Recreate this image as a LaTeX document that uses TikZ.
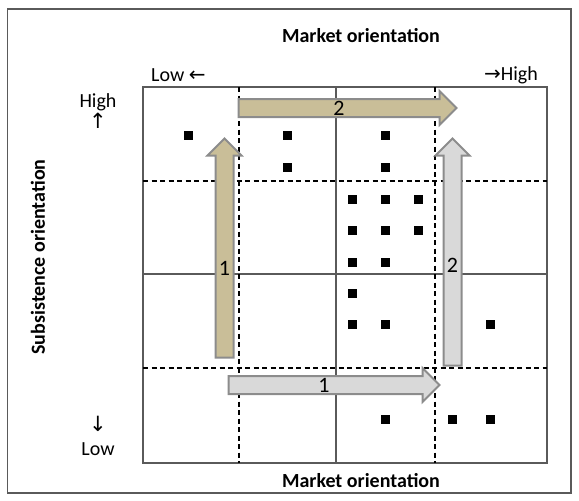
\documentclass[tikz,border=0pt]{standalone}
\usepackage{fontspec}
\setmainfont{Carlito}
\newfontfamily\symfont{DejaVu Sans}
\usepackage{tikz}
\usetikzlibrary{shapes.arrows}
\definecolor{SandTan}{HTML}{C9BE98}
\definecolor{MistGray}{HTML}{D9D9D9}
\definecolor{EdgeGray}{HTML}{8C8C8C}
\definecolor{LineGray}{HTML}{5A5A5A}

\begin{document}
\begin{tikzpicture}[
  x=1pt, y=-1pt,
  frame/.style={draw=LineGray, line width=1.5pt},
  solidline/.style={draw=LineGray, line width=1.2pt},
  dashline/.style={draw=black, line width=1.1pt, dash pattern=on 5pt off 3.5pt},
  dot/.style={fill=black, minimum size=9pt, inner sep=0pt},
  blockarrow/.style={single arrow, draw=EdgeGray, line width=2pt, inner sep=8pt,
               single arrow head extend=8pt, single arrow tip angle=90},
  tanarrow/.style={blockarrow, fill=SandTan},
  grayarrow/.style={blockarrow, fill=MistGray},
  heading/.style={font=\fontsize{20}{24}\selectfont\bfseries, inner sep=0pt},
  ticktext/.style={font=\fontsize{20}{24}\selectfont, inner sep=0pt},
  numtext/.style={font=\fontsize{22}{26}\selectfont, inner sep=0pt}
]
\useasboundingbox (0,0) rectangle (579,501);
\draw[frame] (7.5,9) rectangle (571,493);

% grid of the nine-by-nine field
\draw[solidline] (143,87) rectangle (547,463);
\draw[solidline] (336,87) -- (336,463);
\draw[solidline] (143,274) -- (547,274);
\draw[dashline] (239,87) -- (239,463);
\draw[dashline] (435,87) -- (435,463);
\draw[dashline] (143,181) -- (547,181);
\draw[dashline] (143,368) -- (547,368);

% households
\foreach \x/\y [count=\i] in {188/135, 287/135, 385/135, 287/167, 385/167,
    352/199, 385/199, 418/199, 352/230, 385/230, 418/230, 352/262, 385/262,
    352/293, 352/324, 385/324, 490/324, 385/419, 452/419, 490/419}
  \node[dot] (hh\i) at (\x,\y) {};

% trajectories
\node[tanarrow, minimum height=218pt] (pathtop) at (343,108) {};
\node[tanarrow, shape border rotate=90, minimum height=219pt] (pathleft) at (224.5,252.5) {};
\node[grayarrow, shape border rotate=90, minimum height=227pt] (pathright) at (452.5,256.5) {};
\node[grayarrow, minimum height=211pt] (pathbottom) at (329.5,385) {};
\node[numtext] (numtop) at ([xshift=-4pt]pathtop.center) {2};
\node[numtext] (numleft) at ([yshift=-15.5pt]pathleft.center) {1};
\node[numtext] (numright) at ([yshift=-8.5pt]pathright.center) {2};
\node[numtext] (numbottom) at ([xshift=-5.5pt]pathbottom.center) {1};

% axis texts
\node[heading] (xtitletop) at (361,36) {Market orientation};
\node[heading] (xtitlebot) at (361,481) {Market orientation};
\node[heading, rotate=90] (ytitle) at (38,257) {Subsistence orientation};
\node[ticktext, anchor=west] (xlow) at (151,75) {Low {\symfont\fontsize{20}{24}\selectfont ←}};
\node[ticktext, anchor=east] (xhigh) at (538,75) {{\symfont\fontsize{20}{24}\selectfont →}High};
\node[ticktext] (yhigh) at (98,102) {High};
\node[ticktext] (yup) at (98,121) {\symfont\fontsize{21}{24}\selectfont ↑};
\node[ticktext] (ydown) at (98,424) {\symfont\fontsize{21}{24}\selectfont ↓};
\node[ticktext] (ylow) at (98,449) {Low};
\end{tikzpicture}
\end{document}
